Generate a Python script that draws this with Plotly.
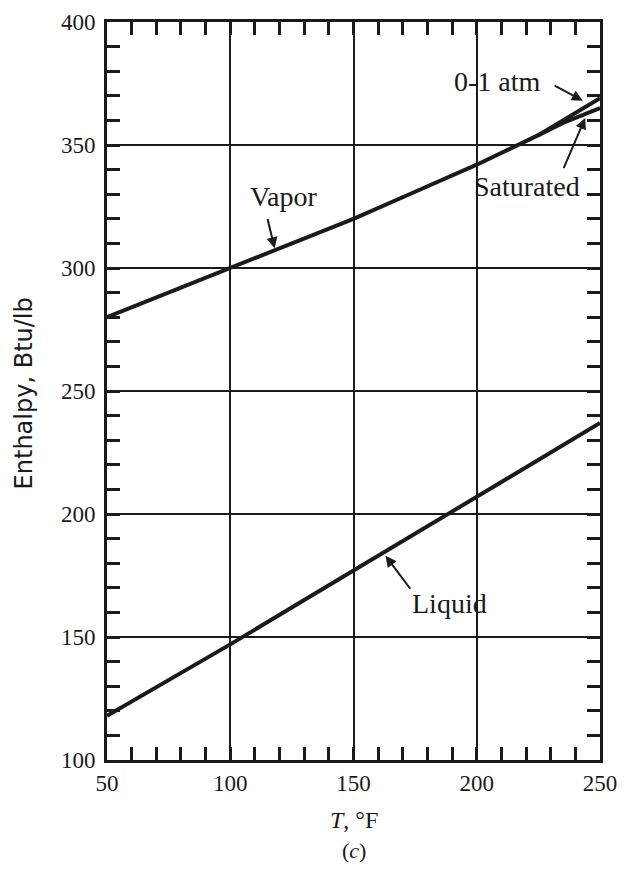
"""
Enthalpy vs temperature, panel (c): vapor (0-1 atm and saturated) and liquid.
"""
import plotly.graph_objects as go

# temperature, F
temp_vapor = [50, 75, 100, 125, 150, 175, 200, 225, 250]
h_vapor_atm = [280, 290, 300, 310, 320, 331, 342, 354, 369]

temp_sat = [225, 235, 250]
h_vapor_sat = [354, 359, 365]

temp_liquid = [50, 100, 150, 200, 250]
h_liquid = [118, 147, 177, 207, 237]

x_ticks = [50, 100, 150, 200, 250]
y_ticks = [100, 150, 200, 250, 300, 350, 400]

FONT = "Liberation Serif"
INK = "#1a1a1a"


def add_arrow(fig, tail, head):
    fig.add_annotation(
        x=head[0], y=head[1], ax=tail[0], ay=tail[1],
        xref="x", yref="y", axref="x", ayref="y",
        text="", showarrow=True, arrowhead=2, arrowsize=1.1,
        arrowwidth=2, arrowcolor=INK,
    )


def build():
    fig = go.Figure()
    line = dict(color=INK, width=4)
    fig.add_trace(go.Scatter(x=temp_vapor, y=h_vapor_atm, mode="lines", line=line))
    fig.add_trace(go.Scatter(x=temp_sat, y=h_vapor_sat, mode="lines", line=line))
    fig.add_trace(go.Scatter(x=temp_liquid, y=h_liquid, mode="lines", line=line))

    axis = dict(
        showline=True, linecolor=INK, linewidth=3, mirror="ticks",
        showgrid=True, gridcolor=INK, gridwidth=2,
        ticks="inside", ticklen=0, tickcolor=INK,
        tickfont=dict(family=FONT, size=23, color=INK),
        zeroline=False, automargin=False, ticklabeloverflow="allow",
        minor=dict(dtick=10, ticks="inside", ticklen=13, tickwidth=2.5,
                   tickcolor=INK, showgrid=False),
    )
    fig.update_xaxes(**axis, range=[50, 250], tickvals=x_ticks, ticklabelstandoff=0)
    fig.update_yaxes(**axis, range=[100, 400], tickvals=y_ticks, ticklabelstandoff=4)

    txt = dict(family=FONT, size=28, color=INK)
    fig.add_annotation(x=122, y=329, text="Vapor", showarrow=False, font=txt)
    add_arrow(fig, (115, 320.5), (118, 308))
    fig.add_annotation(x=189, y=163.5, text="Liquid", showarrow=False, font=txt)
    add_arrow(fig, (173.5, 169), (163, 183))
    fig.add_annotation(x=208.6, y=376, text="0-1 atm", showarrow=False, font=txt)
    add_arrow(fig, (231, 374.5), (243, 368))
    fig.add_annotation(x=220.5, y=333, text="Saturated", showarrow=False, font=txt)
    add_arrow(fig, (235, 340), (244, 361))

    fig.add_annotation(x=-0.168, y=0.497, xref="paper", yref="paper",
                       xanchor="center", yanchor="middle",
                       text="Enthalpy, Btu/lb", textangle=-90,
                       showarrow=False,
                       font=dict(family="DejaVu Sans", size=24, color=INK))
    fig.add_annotation(x=0.5, y=-0.081, xref="paper", yref="paper",
                       xanchor="center", yanchor="middle",
                       text="<i>T</i>, °F", showarrow=False,
                       font=dict(family=FONT, size=24, color=INK))
    fig.add_annotation(x=0.5, y=-0.123, xref="paper", yref="paper",
                       xanchor="center", yanchor="middle",
                       text="(<i>c</i>)", showarrow=False,
                       font=dict(family=FONT, size=22, color=INK))

    # page body adds an 8 px margin, so the figure is sized to fit inside
    fig.update_layout(
        width=612, height=872,
        margin=dict(l=99, r=20, t=14, b=120),
        paper_bgcolor="white", plot_bgcolor="white",
        showlegend=False,
    )
    return fig


def main():
    fig = build()
    fig.write_html("out.html")


if __name__ == "__main__":
    main()
